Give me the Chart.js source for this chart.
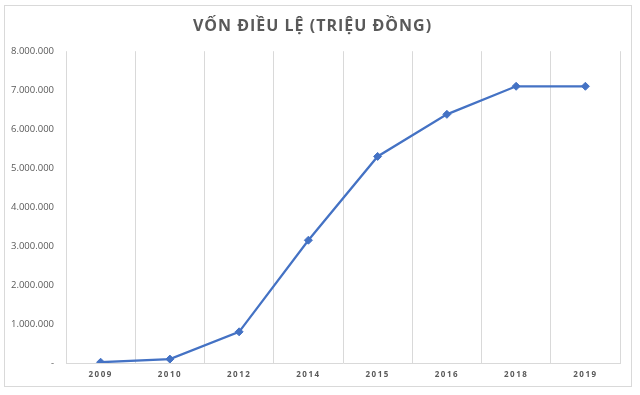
<!DOCTYPE html>
<html lang="vi">
<head>
    <meta charset="UTF-8">
    <title>Vốn điều lệ</title>
    <script src="https://cdn.jsdelivr.net/npm/chart.js"></script>
    <style>
        body { margin: 0; background: #fff; }
        #box { position: absolute; left: 4px; top: 5px; width: 626px; height: 380px; border: 1px solid #d9d9d9; }
    </style>
</head>
<body>
    <div id="box"><canvas id="capChart" width="626" height="380"></canvas></div>

    <script>
        const years = ["2009", "2010", "2012", "2014", "2015", "2016", "2018", "2019"];
        const capital = [20000, 100000, 800000, 3150000, 5300000, 6380000, 7100000, 7100000];
        const titleText = "VỐN ĐIỀU LỆ (TRIỆU ĐỒNG)";

        // chấm phân cách hàng nghìn, số 0 hiện là "-"
        function fmt(v) {
            if (v === 0) return "-";
            return String(v).replace(/\B(?=(\d{3})+(?!\d))/g, ".");
        }

        // giãn chữ cho tiêu đề và nhãn trục x
        const spacing = {
            id: "spacing",
            beforeDraw(chart) {
                const ctx = chart.ctx;
                const x = chart.scales.x;
                if (!x._spaced) {
                    const orig = x.drawLabels;
                    x.drawLabels = function (area) {
                        ctx.save(); ctx.letterSpacing = "1.5px";
                        orig.call(this, area);
                        ctx.restore();
                    };
                    x._spaced = true;
                }
                const t = chart.titleBlock;
                if (t && !t._spaced) {
                    const origT = t.draw;
                    t.draw = function () {
                        ctx.save(); ctx.letterSpacing = "1px";
                        origT.call(this);
                        ctx.restore();
                    };
                    t._spaced = true;
                }
            }
        };

        new Chart(document.getElementById("capChart"), {
            type: "line",
            data: {
                labels: years,
                datasets: [{
                    data: capital,
                    borderColor: "#4472C4",
                    backgroundColor: "#4472C4",
                    borderWidth: 2.25,
                    pointStyle: "rectRot",
                    pointRadius: 4,
                    pointBorderWidth: 1,
                    tension: 0,
                    fill: false
                }]
            },
            options: {
                responsive: false,
                animation: false,
                layout: { padding: { left: 0, right: 11, top: 0, bottom: 0 } },
                plugins: {
                    legend: { display: false },
                    tooltip: { enabled: false },
                    title: {
                        display: true,
                        text: titleText,
                        color: "#595959",
                        font: { family: "'Open Sans', sans-serif", size: 16, weight: "bold", lineHeight: 1.2 },
                        padding: { top: 11, bottom: 15 }
                    }
                },
                scales: {
                    x: {
                        offset: true,
                        grid: { offset: true, color: "#d9d9d9", drawTicks: false, lineWidth: 1 },
                        border: { color: "#d9d9d9" },
                        ticks: {
                            color: "#595959",
                            padding: 7,
                            font: { family: "'Open Sans', sans-serif", size: 8, weight: "bold" }
                        },
                        afterFit: s => { s.height = 23; }
                    },
                    y: {
                        min: 0,
                        max: 8000000,
                        grid: { display: false, drawTicks: false },
                        border: { display: false },
                        ticks: {
                            stepSize: 1000000,
                            color: "#595959",
                            padding: 12,
                            font: { family: "'Open Sans', sans-serif", size: 9.5 },
                            callback: v => fmt(v)
                        },
                        afterFit: s => { s.width = 61; }
                    }
                }
            },
            plugins: [spacing]
        });
    </script>
</body>
</html>
